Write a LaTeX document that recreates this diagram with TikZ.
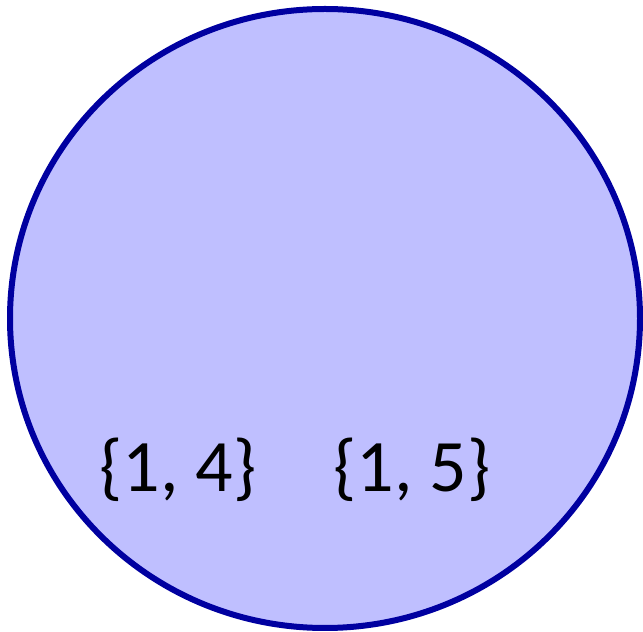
\documentclass[tikz,border=0pt]{standalone}
\usepackage{fontspec}
\setmainfont{Carlito}
\definecolor{setfill}{RGB}{191,191,255}
\definecolor{setline}{RGB}{0,0,160}
\tikzset{
  setshape/.style={ellipse, draw=setline, fill=setfill, line width=6pt, minimum width=630pt, minimum height=619pt, inner sep=0pt},
  setlabel/.style={anchor=base, inner sep=0pt, font=\fontsize{74}{80}\selectfont}
}
\usetikzlibrary{shapes.geometric}
\begin{document}
\begin{tikzpicture}[x=1pt,y=1pt]
\useasboundingbox (0,0) rectangle (643,632);
\begin{scope}
\clip (0,0) rectangle (643,632);
\node[setshape] (s) at (325,313.5) {};
\end{scope}
\node[setlabel] (a) at (178,140) {\{1, 4\}};
\node[setlabel] (b) at (412,140) {\{1, 5\}};
\end{tikzpicture}
\end{document}
